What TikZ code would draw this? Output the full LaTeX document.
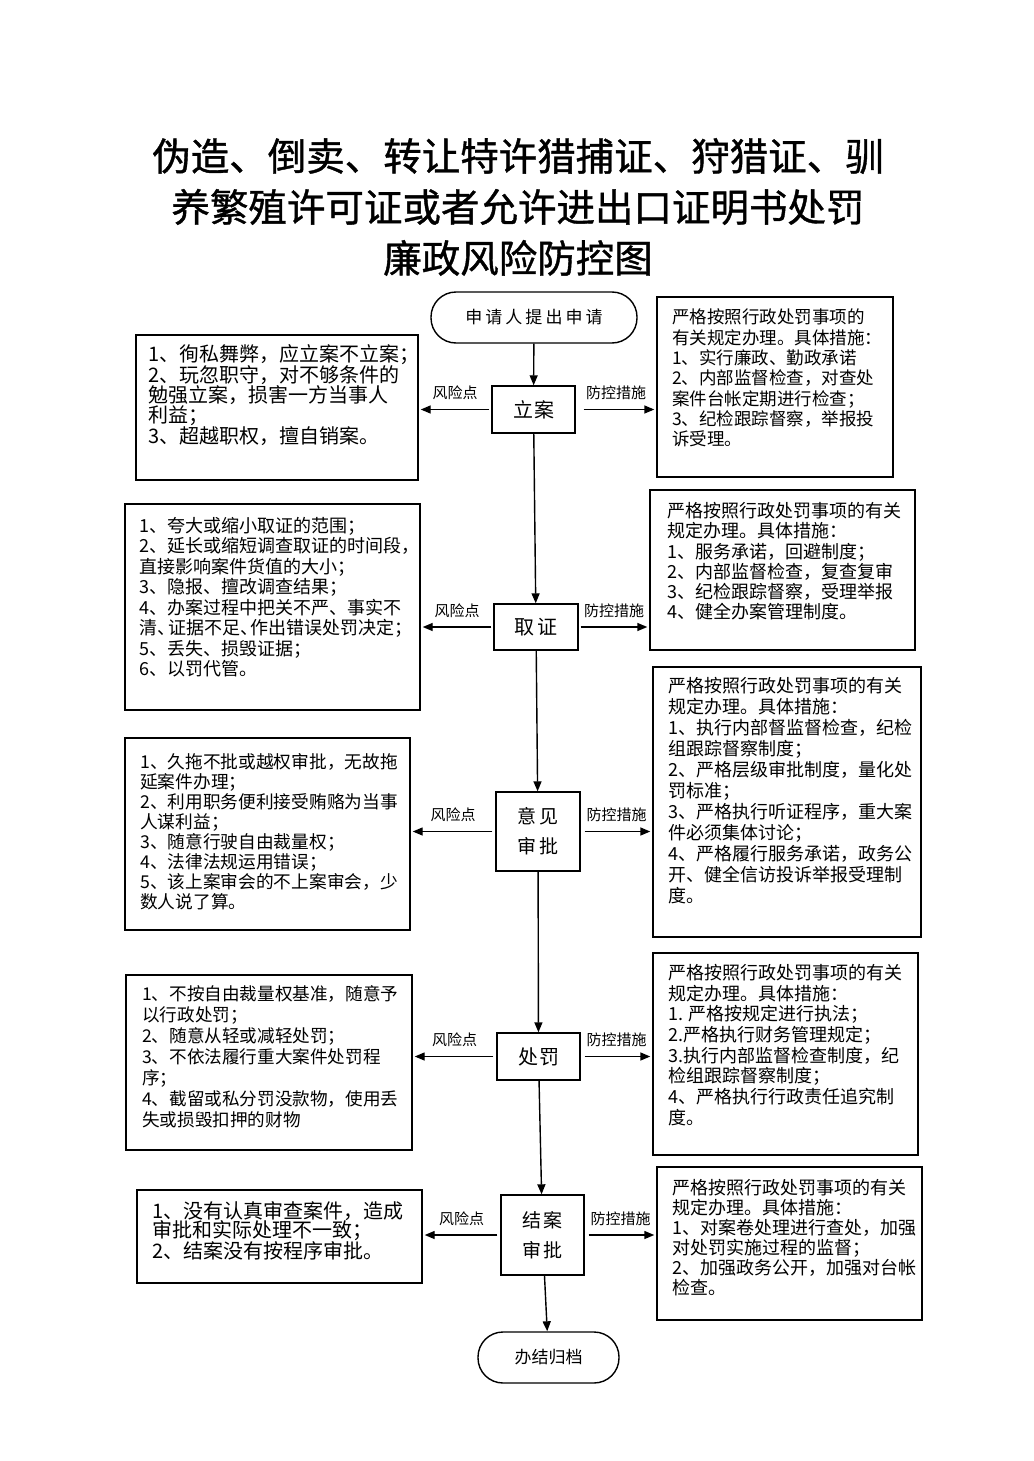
\documentclass[tikz,border=0pt]{standalone}
\usepackage{fontspec}
\setmainfont{Noto Sans CJK SC}
\usetikzlibrary{arrows.meta}
\tikzset{
  frame/.style={draw, line width=1.4pt, inner sep=0pt},
  txt/.style={anchor=north west, inner sep=0pt, align=left},
  arr/.style={line width=1.4pt, -{Triangle[length=10pt,width=8pt]}},
  lab/.style={font=\fontsize{15}{15}\selectfont, inner sep=1pt},
}
\newcommand{\ks}{\kern-0.4em}
\begin{document}
\begin{tikzpicture}[x=1pt,y=-1pt]
\useasboundingbox[fill=white] (0,0) rectangle (1033,1461);

% title
\node[align=center, font=\fontsize{38.5}{51}\selectfont\addfontfeature{FakeBold=1}] (title) at (518,207)
  {伪造、倒卖、转让特许猎捕证、狩猎证、驯\\养繁殖许可证或者允许进出口证明书处罚\\廉政风险防控图};

% flow nodes
\node[frame, rounded corners=25pt, minimum width=206pt, minimum height=51pt,
  font=\fontsize{17}{17}\selectfont\addfontfeature{LetterSpace=18}] (start) at (534,317.5) {申请人提出申请};
\node[frame, minimum width=83pt, minimum height=47pt, font=\fontsize{20}{20}\selectfont\addfontfeature{LetterSpace=5}] (lian) at (533.5,409.5) {立案};
\node[frame, minimum width=84pt, minimum height=46pt, font=\fontsize{20}{20}\selectfont\addfontfeature{LetterSpace=15}] (qz) at (536,627) {取证};
\node[frame, minimum width=84pt, minimum height=79pt, align=center, font=\fontsize{19}{30}\selectfont\addfontfeature{LetterSpace=15}] (yj) at (538,831.5) {意见\\审批};
\node[frame, minimum width=83pt, minimum height=47pt, font=\fontsize{20}{20}\selectfont\addfontfeature{LetterSpace=5}] (cf) at (538.5,1056.5) {处罚};
\node[frame, minimum width=83pt, minimum height=80pt, align=center, font=\fontsize{19}{30}\selectfont\addfontfeature{LetterSpace=15}] (ja) at (542.5,1235) {结案\\审批};
\node[frame, rounded corners=25pt, minimum width=141pt, minimum height=51pt,
  font=\fontsize{17}{17}\selectfont] (end) at (548.5,1357.5) {办结归档};

% side boxes
\node[frame, minimum width=282pt, minimum height=145pt] (L1) at (277,407.5) {};
\node[frame, minimum width=236pt, minimum height=180pt] (R1) at (775,387) {};
\node[frame, minimum width=295pt, minimum height=206pt] (L2) at (272.5,607) {};
\node[frame, minimum width=265pt, minimum height=160pt] (R2) at (782.5,570) {};
\node[frame, minimum width=285pt, minimum height=192pt] (L3) at (267.5,834) {};
\node[frame, minimum width=268pt, minimum height=270pt] (R3) at (787,802) {};
\node[frame, minimum width=286pt, minimum height=175pt] (L4) at (269,1062.5) {};
\node[frame, minimum width=265pt, minimum height=202pt] (R4) at (785.5,1054) {};
\node[frame, minimum width=285pt, minimum height=93pt] (L5) at (279.5,1236.5) {};
\node[frame, minimum width=265pt, minimum height=153pt] (R5) at (789.5,1243.5) {};

% box texts
\node[txt, font=\fontsize{20}{20}\selectfont] (tL1) at (148,344) {1、徇私舞弊，应立案不立案；\\2、玩忽职守，对不够条件的\\勉强立案，损害一方当事人\\利益；\\3、超越职权，擅自销案。};
\node[txt, font=\fontsize{17.5}{20.3}\selectfont] (tR1) at (672,309) {严格按照行政处罚事项的\\有关规定办理。具体措施：\\1、实行廉政、勤政承诺\\2、内部监督检查，对查处\\案件台帐定期进行检查；\\3、纪检跟踪督察，举报投\\诉受理。};
\node[txt, font=\fontsize{18}{20.5}\selectfont] (tL2) at (139,517) {1、夸大或缩小取证的范围；\\2、延长或缩短调查取证的时间段，\\直接影响案件货值的大小；\\3、隐报、擅改调查结果；\\4、办案过程中把关不严、事实不\\清、\ks 证据不足、\ks 作出错误处罚决定；\\5、丢失、损毁证据；\\6、以罚代管。};
\node[txt, font=\fontsize{18}{20.3}\selectfont] (tR2) at (667,502) {严格按照行政处罚事项的有关\\规定办理。具体措施：\\1、服务承诺，回避制度；\\2、内部监督检查，复查复审\\3、纪检跟踪督察，受理举报\\4、健全办案管理制度。};
\node[txt, font=\fontsize{17.7}{20}\selectfont] (tL3) at (140,753) {1、久拖不批或越权审批，无故拖\\延案件办理；\\2、利用职务便利接受贿赂为当事\\人谋利益；\\3、随意行驶自由裁量权；\\4、法律法规运用错误；\\5、该上案审会的不上案审会，少\\数人说了算。};
\node[txt, font=\fontsize{18}{21}\selectfont] (tR3) at (668,677) {严格按照行政处罚事项的有关\\规定办理。具体措施：\\1、执行内部督监督检查，纪检\\组跟踪督察制度；\\2、严格层级审批制度，量化处\\罚标准；\\3、严格执行听证程序，重大案\\件必须集体讨论；\\4、严格履行服务承诺，政务公\\开、健全信访投诉举报受理制\\度。};
\node[txt, font=\fontsize{17.6}{21}\selectfont] (tL4) at (142,985) {1、不按自由裁量权基准，随意予\\以行政处罚；\\2、随意从轻或减轻处罚；\\3、不依法履行重大案件处罚程\\序；\\4、截留或私分罚没款物，使用丢\\失或损毁扣押的财物};
\node[txt, font=\fontsize{18}{20.7}\selectfont] (tR4) at (668,964) {严格按照行政处罚事项的有关\\规定办理。具体措施：\\1. 严格按规定进行执法；\\2.严格执行财务管理规定；\\3.执行内部监督检查制度，纪\\检组跟踪督察制度；\\4、严格执行行政责任追究制\\度。};
\node[txt, font=\fontsize{20}{19.5}\selectfont] (tL5) at (152,1201) {1、没有认真审查案件，造成\\审批和实际处理不一致；\\2、结案没有按程序审批。};
\node[txt, font=\fontsize{18}{20}\selectfont] (tR5) at (672,1179) {严格按照行政处罚事项的有关\\规定办理。具体措施：\\1、对案卷处理进行查处，加强\\对处罚实施过程的监督；\\2、加强政务公开，加强对台帐\\检查。};

% vertical flow
\draw[arr] (start) -- (lian);
\draw[arr] (lian) -- (qz);
\draw[arr] (qz) -- (yj);
\draw[arr] (yj) -- (cf);
\draw[arr] (cf) -- (ja);
\draw[arr] (ja) -- (end);

% side arrows
\foreach \m/\l/\r/\sl/\sr in {lian/L1/R1/2/8, qz/L2/R2/2/2, yj/L3/R3/3/4, cf/L4/R4/3/4, ja/L5/R5/3/4}{
  \draw[arr, shorten <=\sl pt, shorten >=2pt] (\m.west) -- (\m.west -| \l.east) node[lab, midway, above=8pt] {风险点};
  \draw[arr, shorten <=\sr pt, shorten >=2pt] (\m.east) -- (\m.east -| \r.west) node[lab, midway, above=8pt] {防控措施};
}
\end{tikzpicture}
\end{document}
